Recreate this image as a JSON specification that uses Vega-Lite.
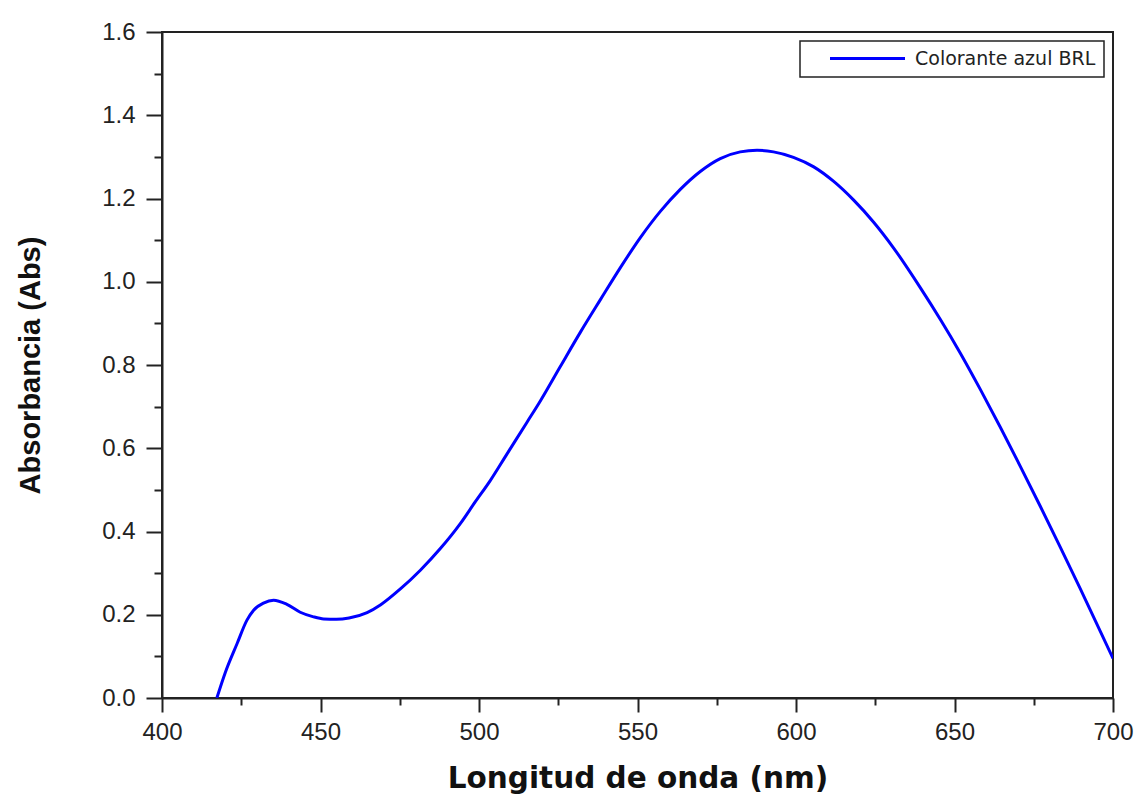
{
  "$schema": "https://vega.github.io/schema/vega-lite/v6.json",
  "width": 951,
  "height": 666,
  "autosize": {"type": "none"},
  "padding": {"left": 162, "top": 32, "right": 26, "bottom": 99},
  "background": "white",
  "config": {
    "view": {"stroke": "#222", "strokeWidth": 2},
    "axis": {
      "grid": false,
      "domainColor": "#222",
      "domainWidth": 2,
      "tickColor": "#222",
      "tickWidth": 2,
      "labelFont": "Liberation Sans",
      "labelFontSize": 24,
      "labelColor": "#222",
      "titleColor": "#111",
      "titleFontWeight": "bold"
    },
    "legend": {
      "orient": "top-right",
      "offset": 9,
      "strokeColor": "#222",
      "strokeWidth": 1.5,
      "fillColor": "white",
      "padding": 8,
      "symbolType": "M-5,0H5",
      "symbolSize": 225,
      "symbolStrokeWidth": 3,
      "symbolOffset": 50,
      "labelFont": "DejaVu Sans",
      "labelFontSize": 19,
      "labelColor": "#222",
      "labelOffset": 38,
      "labelLimit": 400
    }
  },
  "data": {
    "values": [
      {"serie": "Colorante azul BRL", "wl": 417.3, "abs": 0.0},
      {"serie": "Colorante azul BRL", "wl": 420.0, "abs": 0.062},
      {"serie": "Colorante azul BRL", "wl": 423.7, "abs": 0.131},
      {"serie": "Colorante azul BRL", "wl": 426.8, "abs": 0.187},
      {"serie": "Colorante azul BRL", "wl": 428.9, "abs": 0.211},
      {"serie": "Colorante azul BRL", "wl": 432.0, "abs": 0.228},
      {"serie": "Colorante azul BRL", "wl": 435.2, "abs": 0.235},
      {"serie": "Colorante azul BRL", "wl": 439.4, "abs": 0.225},
      {"serie": "Colorante azul BRL", "wl": 443.6, "abs": 0.206},
      {"serie": "Colorante azul BRL", "wl": 447.8, "abs": 0.195},
      {"serie": "Colorante azul BRL", "wl": 451.0, "abs": 0.190},
      {"serie": "Colorante azul BRL", "wl": 455.0, "abs": 0.189},
      {"serie": "Colorante azul BRL", "wl": 459.0, "abs": 0.192},
      {"serie": "Colorante azul BRL", "wl": 464.7, "abs": 0.205},
      {"serie": "Colorante azul BRL", "wl": 469.0, "abs": 0.224},
      {"serie": "Colorante azul BRL", "wl": 475.2, "abs": 0.262},
      {"serie": "Colorante azul BRL", "wl": 481.5, "abs": 0.307},
      {"serie": "Colorante azul BRL", "wl": 487.8, "abs": 0.359},
      {"serie": "Colorante azul BRL", "wl": 494.1, "abs": 0.419},
      {"serie": "Colorante azul BRL", "wl": 498.8, "abs": 0.471},
      {"serie": "Colorante azul BRL", "wl": 503.6, "abs": 0.523},
      {"serie": "Colorante azul BRL", "wl": 508.8, "abs": 0.586},
      {"serie": "Colorante azul BRL", "wl": 515.1, "abs": 0.662},
      {"serie": "Colorante azul BRL", "wl": 519.3, "abs": 0.713},
      {"serie": "Colorante azul BRL", "wl": 525.7, "abs": 0.797},
      {"serie": "Colorante azul BRL", "wl": 532.0, "abs": 0.879},
      {"serie": "Colorante azul BRL", "wl": 538.3, "abs": 0.957},
      {"serie": "Colorante azul BRL", "wl": 544.6, "abs": 1.034},
      {"serie": "Colorante azul BRL", "wl": 550.9, "abs": 1.106},
      {"serie": "Colorante azul BRL", "wl": 557.2, "abs": 1.169},
      {"serie": "Colorante azul BRL", "wl": 563.5, "abs": 1.222},
      {"serie": "Colorante azul BRL", "wl": 569.8, "abs": 1.265},
      {"serie": "Colorante azul BRL", "wl": 576.1, "abs": 1.296},
      {"serie": "Colorante azul BRL", "wl": 582.4, "abs": 1.312},
      {"serie": "Colorante azul BRL", "wl": 587.7, "abs": 1.316},
      {"serie": "Colorante azul BRL", "wl": 592.9, "abs": 1.312},
      {"serie": "Colorante azul BRL", "wl": 599.2, "abs": 1.299},
      {"serie": "Colorante azul BRL", "wl": 605.6, "abs": 1.276},
      {"serie": "Colorante azul BRL", "wl": 611.9, "abs": 1.241},
      {"serie": "Colorante azul BRL", "wl": 618.2, "abs": 1.196},
      {"serie": "Colorante azul BRL", "wl": 624.5, "abs": 1.143},
      {"serie": "Colorante azul BRL", "wl": 630.8, "abs": 1.081},
      {"serie": "Colorante azul BRL", "wl": 639.2, "abs": 0.986},
      {"serie": "Colorante azul BRL", "wl": 645.5, "abs": 0.910},
      {"serie": "Colorante azul BRL", "wl": 651.8, "abs": 0.829},
      {"serie": "Colorante azul BRL", "wl": 658.1, "abs": 0.742},
      {"serie": "Colorante azul BRL", "wl": 664.5, "abs": 0.650},
      {"serie": "Colorante azul BRL", "wl": 670.8, "abs": 0.556},
      {"serie": "Colorante azul BRL", "wl": 677.1, "abs": 0.460},
      {"serie": "Colorante azul BRL", "wl": 683.4, "abs": 0.362},
      {"serie": "Colorante azul BRL", "wl": 689.7, "abs": 0.262},
      {"serie": "Colorante azul BRL", "wl": 696.0, "abs": 0.160},
      {"serie": "Colorante azul BRL", "wl": 700.0, "abs": 0.095}
    ]
  },
  "mark": {"type": "line", "strokeWidth": 3, "interpolate": "monotone", "clip": true},
  "encoding": {
    "x": {
      "field": "wl",
      "type": "quantitative",
      "scale": {"domain": [400, 700], "nice": false, "zero": false},
      "axis": {
        "title": "Longitud de onda (nm)",
        "titleFont": "DejaVu Sans",
        "titleFontSize": 29.5,
        "titlePadding": 20,
        "values": [400, 425, 450, 475, 500, 525, 550, 575, 600, 625, 650, 675, 700],
        "labelExpr": "datum.value % 50 === 0 ? datum.label : ''",
        "tickSize": {"condition": {"test": "datum.value % 50 === 0", "value": 14}, "value": 7},
        "labelPadding": 8,
        "labelFlush": false,
        "labelOverlap": false
      }
    },
    "y": {
      "field": "abs",
      "type": "quantitative",
      "scale": {"domain": [0, 1.6], "nice": false},
      "axis": {
        "title": "Absorbancia (Abs)",
        "titleFont": "Liberation Sans",
        "titleFontSize": 29,
        "titlePadding": 56,
        "values": [0, 0.1, 0.2, 0.3, 0.4, 0.5, 0.6, 0.7, 0.8, 0.9, 1.0, 1.1, 1.2, 1.3, 1.4, 1.5, 1.6],
        "labelExpr": "round(datum.value * 10) % 2 === 0 ? format(datum.value, '.1f') : ''",
        "tickSize": {"condition": {"test": "round(datum.value * 10) % 2 === 0", "value": 16}, "value": 8},
        "labelPadding": 11,
        "labelFlush": false,
        "labelOverlap": false
      }
    },
    "color": {
      "field": "serie",
      "type": "nominal",
      "scale": {"range": ["#0000ff"]},
      "legend": {"title": null}
    }
  }
}
